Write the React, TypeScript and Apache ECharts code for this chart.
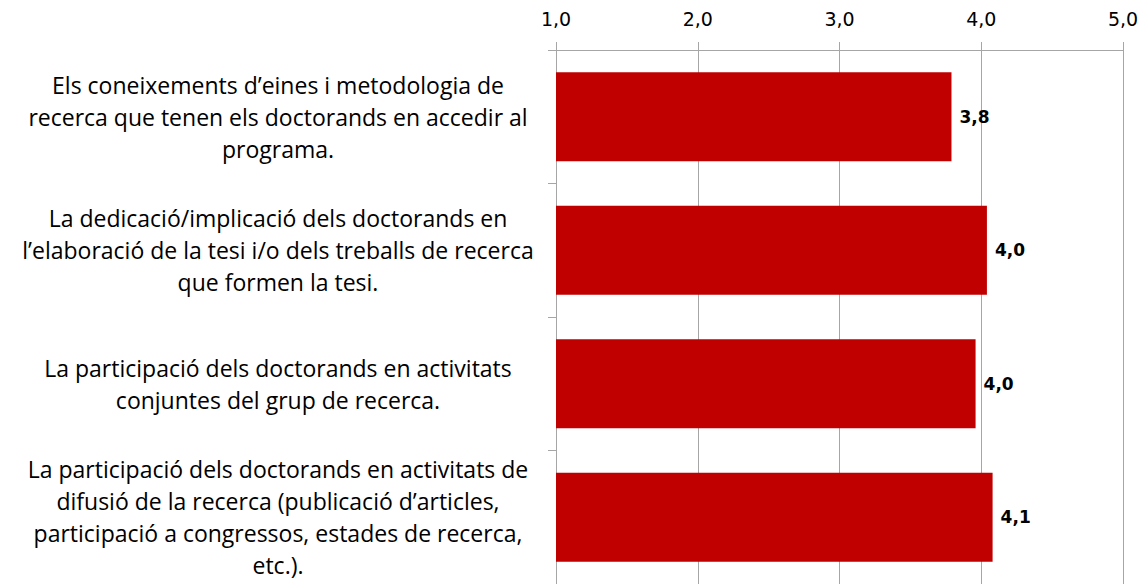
import React, { useEffect, useRef } from "react";
import * as echarts from "echarts";

const categories = [
  "Els coneixements d’eines i metodologia de\nrecerca que tenen els doctorands en accedir al\nprograma.",
  "La dedicació/implicació dels doctorands en\nl’elaboració de la tesi i/o dels treballs de recerca\nque formen la tesi.",
  "La participació dels doctorands en activitats\nconjuntes del grup de recerca.",
  "La participació dels doctorands en activitats de\ndifusió de la recerca (publicació d’articles,\nparticipació a congressos, estades de recerca,\netc.).",
];
const values = [3.79, 4.04, 3.96, 4.08];
const axisTicks = [1, 2, 3, 4, 5];

const fmt = (v: number) => v.toFixed(1).replace(".", ",");

export default function App() {
  const ref = useRef<HTMLDivElement>(null);
  useEffect(() => {
    if (!ref.current) return;
    const chart = echarts.init(ref.current, undefined, { renderer: "svg" });
    chart.setOption({
      animation: false,
      backgroundColor: "#ffffff",
      grid: { left: 556, top: 50, width: 567, height: 538, containLabel: false },
      xAxis: {
        type: "value",
        position: "top",
        min: axisTicks[0],
        max: axisTicks[axisTicks.length - 1],
        interval: 1,
        axisLine: { show: true, lineStyle: { color: "#a6a6a6", width: 1 } },
        axisTick: { show: true, length: 8, lineStyle: { color: "#a6a6a6" } },
        splitLine: { show: true, lineStyle: { color: "#a6a6a6", width: 1 } },
        axisLabel: {
          formatter: (v: number) => fmt(v),
          fontFamily: "DejaVu Sans",
          fontSize: 19,
          color: "#000000",
          margin: 22,
        },
      },
      yAxis: {
        type: "category",
        inverse: true,
        data: categories,
        axisLine: { show: true, lineStyle: { color: "#a6a6a6", width: 1 } },
        axisTick: { show: true, length: 8, lineStyle: { color: "#a6a6a6" } },
        axisLabel: {
          align: "center",
          margin: 278,
          fontFamily: "Open Sans",
          fontSize: 23,
          lineHeight: 32,
          color: "#000000",
        },
      },
      series: [
        {
          type: "bar",
          data: values,
          barWidth: 89,
          itemStyle: { color: "#c00000" },
          label: {
            show: true,
            position: "right",
            distance: 8,
            formatter: (p: any) => fmt(p.value),
            fontFamily: "DejaVu Sans",
            fontWeight: "bold",
            fontSize: 17,
            color: "#000000",
          },
        },
      ],
    });
    return () => chart.dispose();
  }, []);
  return (
    <div
      ref={ref}
      style={{ position: "fixed", left: 0, top: 0, width: 1145, height: 584 }}
    />
  );
}
